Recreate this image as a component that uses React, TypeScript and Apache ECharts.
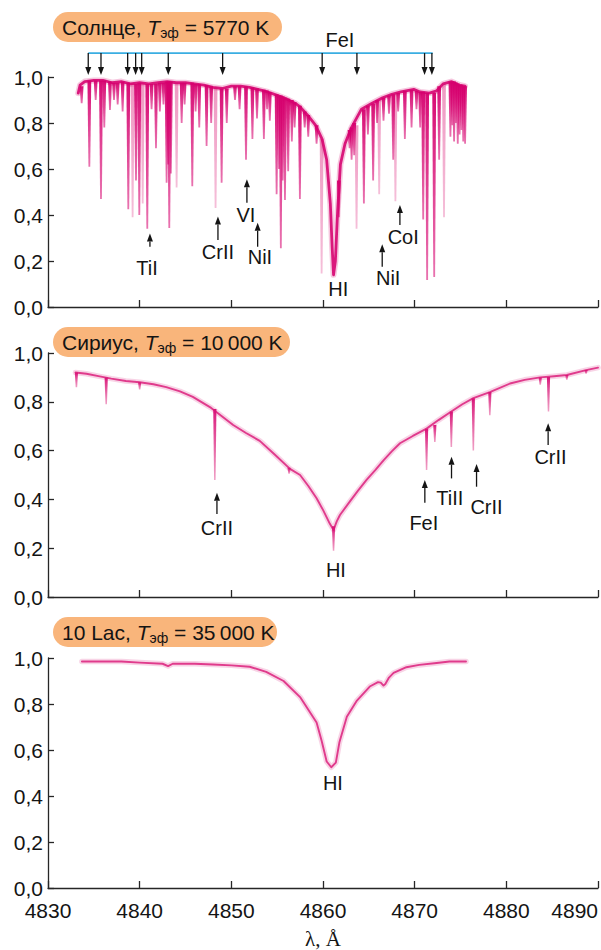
import React, { useEffect, useRef } from "react";
import * as echarts from "echarts";

// ---------- data ----------
// x axis: wavelength, Å ; y axis: relative intensity
const xMin = 4830;
const xMax = 4890;
const xStep = 10;
const yMin = 0;
const yMax = 1;
const yStep = 0.2;

// Sun (T = 5770 K): upper envelope / Hβ profile
const sunContinuum: [number, number][] = [
  [4833.3, 0.93], [4833.5, 0.965], [4834.0, 0.98], [4835.0, 0.985], [4836.0, 0.985],
  [4837.0, 0.975], [4838.0, 0.98], [4839.0, 0.97], [4840.0, 0.975], [4841.0, 0.97],
  [4842.0, 0.975], [4843.0, 0.98], [4844.0, 0.975], [4845.0, 0.975], [4846.0, 0.97],
  [4847.0, 0.965], [4848.0, 0.955], [4849.0, 0.95], [4850.0, 0.96], [4851.0, 0.96],
  [4852.0, 0.955], [4853.0, 0.945], [4854.0, 0.935], [4855.0, 0.92], [4856.0, 0.905],
  [4857.0, 0.885], [4857.5, 0.87], [4858.3, 0.835], [4859.2, 0.79], [4859.9, 0.73],
  [4860.4, 0.64], [4860.8, 0.45], [4861.0, 0.26], [4861.15, 0.14], [4861.35, 0.2],
  [4861.6, 0.42], [4861.9, 0.62], [4862.4, 0.71], [4863.1, 0.78], [4864.2, 0.86],
  [4865.3, 0.885], [4866.5, 0.91], [4867.5, 0.925], [4868.5, 0.935], [4869.9, 0.946],
  [4870.6, 0.935], [4871.6, 0.93], [4872.4, 0.94], [4873.1, 0.97], [4874.0, 0.98],
  [4874.9, 0.965], [4875.5, 0.96],
];

// Sun absorption lines: [λ, top, bottom]
const sunLinesDark: [number, number, number][] = [
  [4833.67, 0.96, 0.886], [4834.51, 0.985, 0.61], [4835.2, 0.985, 0.9], [4835.78, 0.985, 0.47],
  [4836.14, 0.985, 0.78], [4836.76, 0.98, 0.857], [4837.2, 0.975, 0.9], [4837.6, 0.975, 0.88],
  [4838.14, 0.98, 0.85], [4838.76, 0.975, 0.425], [4839.6, 0.97, 0.55], [4839.96, 0.975, 0.4],
  [4840.83, 0.97, 0.34], [4841.3, 0.97, 0.86], [4841.78, 0.97, 0.69], [4842.2, 0.975, 0.85],
  [4842.6, 0.975, 0.88], [4842.94, 0.98, 0.54], [4843.1, 0.98, 0.62], [4843.23, 0.98, 0.343],
  [4843.4, 0.98, 0.58], [4844.58, 0.975, 0.8], [4844.9, 0.975, 0.88], [4845.74, 0.975, 0.525],
  [4846.1, 0.97, 0.85], [4846.5, 0.97, 0.78], [4847.3, 0.965, 0.7], [4847.8, 0.96, 0.8],
  [4848.94, 0.95, 0.54], [4849.5, 0.95, 0.8], [4850.4, 0.96, 0.9], [4850.9, 0.96, 0.86],
  [4851.6, 0.96, 0.64], [4852.3, 0.955, 0.73], [4852.8, 0.95, 0.82], [4853.55, 0.945, 0.73],
  [4853.9, 0.94, 0.86], [4854.2, 0.935, 0.81], [4854.94, 0.925, 0.49], [4855.2, 0.92, 0.6],
  [4855.4, 0.92, 0.255], [4855.6, 0.915, 0.55], [4855.85, 0.91, 0.465], [4856.2, 0.905, 0.59],
  [4856.6, 0.9, 0.72], [4856.9, 0.89, 0.78], [4857.48, 0.875, 0.47], [4858.0, 0.85, 0.78],
  [4858.39, 0.835, 0.74], [4859.3, 0.79, 0.71], [4861.73, 0.55, 0.39], [4862.9, 0.77, 0.69],
  [4863.12, 0.78, 0.64], [4863.4, 0.8, 0.66], [4864.46, 0.86, 0.45], [4864.9, 0.875, 0.75],
  [4865.47, 0.885, 0.55], [4865.9, 0.9, 0.8], [4866.6, 0.91, 0.81], [4867.2, 0.92, 0.84],
  [4867.66, 0.925, 0.64], [4868.2, 0.93, 0.85], [4868.93, 0.94, 0.73], [4869.66, 0.945, 0.78],
  [4870.2, 0.94, 0.86], [4870.6, 0.935, 0.78], [4870.93, 0.935, 0.38], [4871.36, 0.93, 0.117],
  [4872.13, 0.93, 0.13], [4872.67, 0.96, 0.64],
  [4873.9, 0.98, 0.74], [4874.1, 0.98, 0.79], [4874.3, 0.98, 0.72], [4874.5, 0.975, 0.8],
  [4874.7, 0.97, 0.71], [4874.9, 0.965, 0.75], [4875.1, 0.965, 0.77], [4875.3, 0.96, 0.72],
  [4875.5, 0.96, 0.71],
];
const sunLinesLight: [number, number, number][] = [
  [4839.23, 0.975, 0.39], [4840.33, 0.975, 0.45], [4844.03, 0.975, 0.52], [4848.28, 0.955, 0.43],
  [4859.85, 0.73, 0.146], [4863.66, 0.79, 0.34], [4866.13, 0.9, 0.49], [4867.9, 0.925, 0.46],
  [4873.2, 0.97, 0.39],
];

// Sirius (T = 10 000 K)
const siriusProfile: [number, number][] = [
  [4833.0, 0.92], [4834.2, 0.915], [4835.5, 0.905], [4836.9, 0.895], [4838.5, 0.885],
  [4840.0, 0.88], [4841.5, 0.872], [4842.9, 0.86], [4844.4, 0.843], [4845.8, 0.82],
  [4847.8, 0.775], [4849.0, 0.74], [4850.2, 0.705], [4851.6, 0.672], [4853.1, 0.64],
  [4854.7, 0.585], [4856.4, 0.525], [4857.5, 0.5], [4858.4, 0.455], [4859.3, 0.405],
  [4860.0, 0.357], [4860.75, 0.3], [4861.15, 0.275], [4861.5, 0.31], [4861.85, 0.336],
  [4862.9, 0.39], [4863.8, 0.435], [4864.75, 0.48], [4865.7, 0.52], [4866.6, 0.56],
  [4867.5, 0.597], [4868.4, 0.63], [4869.8, 0.66], [4871.3, 0.69], [4872.6, 0.725],
  [4874.0, 0.76], [4875.2, 0.79], [4876.4, 0.815], [4878.2, 0.84], [4880.4, 0.875],
  [4882.0, 0.89], [4883.7, 0.9], [4885.2, 0.905], [4886.6, 0.91], [4888.7, 0.93], [4890.0, 0.94],
];
const siriusLines: [number, number, number][] = [
  [4833.1, 0.92, 0.86], [4836.35, 0.9, 0.79], [4840.0, 0.88, 0.85], [4848.2, 0.77, 0.48],
  [4856.3, 0.53, 0.505], [4861.15, 0.29, 0.19], [4871.3, 0.69, 0.52], [4872.2, 0.705, 0.635],
  [4874.0, 0.76, 0.615], [4876.4, 0.815, 0.6], [4878.2, 0.84, 0.745], [4883.7, 0.9, 0.87],
  [4884.6, 0.902, 0.76], [4886.6, 0.91, 0.89], [4888.7, 0.93, 0.915],
];

// 10 Lac (T = 35 000 K)
const lacProfile: [number, number][] = [
  [4833.7, 0.985], [4836.0, 0.985], [4838.0, 0.985], [4840.0, 0.98], [4842.5, 0.975],
  [4843.1, 0.965], [4843.6, 0.975], [4846.0, 0.975], [4848.0, 0.972], [4850.0, 0.968],
  [4852.0, 0.962], [4853.8, 0.94], [4855.7, 0.9], [4857.5, 0.83], [4859.3, 0.72],
  [4859.85, 0.64], [4860.4, 0.55], [4860.9, 0.525], [4861.4, 0.545], [4861.8, 0.635],
  [4862.6, 0.745], [4863.7, 0.815], [4865.1, 0.876], [4866.0, 0.895], [4866.3, 0.893],
  [4866.6, 0.88], [4866.8, 0.887], [4867.2, 0.915], [4867.7, 0.935], [4869.1, 0.96],
  [4870.5, 0.97], [4872.4, 0.978], [4873.8, 0.985], [4875.6, 0.985],
];

// panel titles
const panelNames = ["Солнце", "Сириус", "10 Lac"];
const panelTemps = ["5770", "10\u2009000", "35\u2009000"];

// Fe I lines marked above the solar spectrum
const feLabel = "FeI";
const feArrowsSun = [4834.39, 4835.78, 4838.69, 4839.56, 4840.22, 4843.12, 4849.05, 4859.91, 4863.7, 4871.08, 4871.88];

// line identifications: panel, arrow λ, arrow tip, arrow tail, text λ, text level
type Ann = { g: number; t: string; x?: number; tip?: number; tail?: number; tx: number; ty: number };
const annotations: Ann[] = [
  { g: 0, t: "TiI", x: 4841.12, tip: 0.32, tail: 0.262, tx: 4840.8, ty: 0.17 },
  { g: 0, t: "CrII", x: 4848.54, tip: 0.393, tail: 0.291, tx: 4848.54, ty: 0.24 },
  { g: 0, t: "VI", x: 4851.7, tip: 0.555, tail: 0.453, tx: 4851.59, ty: 0.4 },
  { g: 0, t: "NiI", x: 4852.87, tip: 0.366, tail: 0.262, tx: 4853.12, ty: 0.216 },
  { g: 0, t: "HI", tx: 4861.66, ty: 0.077 },
  { g: 0, t: "NiI", x: 4866.46, tip: 0.273, tail: 0.175, tx: 4867.11, ty: 0.125 },
  { g: 0, t: "CoI", x: 4868.39, tip: 0.443, tail: 0.357, tx: 4868.75, ty: 0.306 },
  { g: 1, t: "CrII", x: 4848.43, tip: 0.427, tail: 0.34, tx: 4848.43, ty: 0.282 },
  { g: 1, t: "HI", tx: 4861.41, ty: 0.111 },
  { g: 1, t: "FeI", x: 4871.11, tip: 0.48, tail: 0.386, tx: 4871.0, ty: 0.302 },
  { g: 1, t: "TiII", x: 4874.02, tip: 0.575, tail: 0.486, tx: 4873.84, ty: 0.405 },
  { g: 1, t: "CrII", x: 4876.75, tip: 0.545, tail: 0.452, tx: 4877.84, ty: 0.368 },
  { g: 1, t: "CrII", x: 4884.56, tip: 0.712, tail: 0.623, tx: 4884.82, ty: 0.575 },
  { g: 2, t: "HI", tx: 4861.08, ty: 0.457 },
];

// ---------- styles / layout ----------
const FONT = "'Liberation Sans', Arial, Helvetica, sans-serif";
const INK = "#141414";
const AXIS = "#262626";
const MAG = "214,0,110";
const grids = [
  { left: 48, top: 77, width: 550, height: 230 },
  { left: 48, top: 353, width: 550, height: 244 },
  { left: 48, top: 658, width: 550, height: 243 },
];
const boxes = [
  { x: 53, y: 12, w: 229, h: 30 },
  { x: 53, y: 327, w: 237, h: 30 },
  { x: 53, y: 617, w: 224, h: 30 },
];

function spikeSeries(grid: number, data: [number, number, number][], c0: string, c1: string, wTop: number, wBot: number) {
  return {
    type: "custom",
    xAxisIndex: grid,
    yAxisIndex: grid,
    data,
    encode: { x: 0, y: [1, 2] },
    z: 4,
    renderItem: (_p: any, api: any) => {
      const top = api.coord([api.value(0), api.value(1)]);
      const bot = api.coord([api.value(0), api.value(2)]);
      return {
        type: "polygon",
        shape: {
          points: [
            [top[0] - wTop / 2, top[1]],
            [top[0] + wTop / 2, top[1]],
            [bot[0] + wBot / 2, bot[1]],
            [bot[0] - wBot / 2, bot[1]],
          ],
        },
        style: {
          fill: new echarts.graphic.LinearGradient(0, 0, 0, 1, [
            { offset: 0, color: c0 },
            { offset: 1, color: c1 },
          ]),
        },
      };
    },
  };
}

function profileSeries(grid: number, data: [number, number][], width: number, color: string, z: number) {
  return {
    type: "line",
    xAxisIndex: grid,
    yAxisIndex: grid,
    data,
    symbol: "none",
    smooth: false,
    z,
    lineStyle: { color, width, join: "round", cap: "round" },
  };
}

export default function App() {
  const ref = useRef<HTMLDivElement>(null);

  useEffect(() => {
    document.body.style.margin = "0";
    if (!ref.current) return;
    const chart = echarts.init(ref.current, undefined, { renderer: "svg" });

    const axisLineStyle = { color: AXIS, width: 1.3 };
    const option: any = {
      animation: false,
      backgroundColor: "#ffffff",
      grid: grids.map((g) => ({ ...g, containLabel: false })),
      xAxis: grids.map((_, i) => ({
        type: "value",
        gridIndex: i,
        min: xMin,
        max: xMax,
        interval: xStep,
        axisLine: { show: true, lineStyle: axisLineStyle },
        axisTick: { show: true, inside: true, length: 7, lineStyle: axisLineStyle },
        splitLine: { show: false },
        axisLabel: {
          show: i === 2,
          fontSize: 21,
          fontFamily: FONT,
          color: INK,
          margin: 14,
          lineHeight: 16,
          alignMaxLabel: "right",
          formatter: (v: number) => String(v),
        },
        name: i === 2 ? "λ, Å" : "",
        nameLocation: "middle",
        nameGap: 40,
        nameTextStyle: { fontFamily: "'Liberation Serif', 'Times New Roman', serif", fontSize: 21, color: INK },
      })),
      yAxis: grids.map((_, i) => ({
        type: "value",
        gridIndex: i,
        min: yMin,
        max: yMax,
        interval: yStep,
        axisLine: { show: true, lineStyle: axisLineStyle },
        axisTick: { show: true, inside: true, length: 6, lineStyle: axisLineStyle },
        splitLine: { show: false },
        axisLabel: {
          fontSize: 21,
          fontFamily: FONT,
          color: INK,
          margin: 5,
          lineHeight: 14,
          formatter: (v: number) => v.toFixed(1).replace(".", ","),
        },
      })),
      series: [
        // Sun
        profileSeries(0, sunContinuum, 6, `rgba(${MAG},0.22)`, 2),
        spikeSeries(0, sunLinesLight, "rgba(226,70,145,0.55)", "rgba(226,70,145,0.35)", 3.8, 1.8),
        spikeSeries(0, sunLinesDark, "rgba(214,0,110,0.95)", "rgba(214,0,110,0.55)", 3.8, 1.8),
        profileSeries(0, sunContinuum, 2.8, `rgba(${MAG},0.88)`, 5),
        // Sirius
        profileSeries(1, siriusProfile, 5.5, "rgba(225,60,140,0.22)", 2),
        spikeSeries(1, siriusLines, "rgba(214,0,110,0.9)", "rgba(220,40,125,0.45)", 3.2, 1.5),
        profileSeries(1, siriusProfile, 1.9, "rgba(218,20,118,0.8)", 5),
        // 10 Lac
        profileSeries(2, lacProfile, 5.5, "rgba(225,60,140,0.22)", 2),
        profileSeries(2, lacProfile, 1.9, "rgba(218,20,118,0.8)", 5),
      ],
    };
    chart.setOption(option);

    const px = (g: number, l: number, v: number) =>
      chart.convertToPixel({ xAxisIndex: g, yAxisIndex: g } as any, [l, v]) as number[];

    const els: any[] = [];
    const arrow = (x: number, yTail: number, yTip: number) => {
      const dir = yTip < yTail ? 1 : -1;
      const base = yTip + dir * 8;
      els.push({
        type: "line",
        z: 20,
        shape: { x1: x, y1: yTail, x2: x, y2: base },
        style: { stroke: INK, lineWidth: 1.3 },
      });
      els.push({
        type: "polygon",
        z: 20,
        shape: { points: [[x, yTip], [x - 3, base], [x + 3, base]] },
        style: { fill: INK },
      });
    };
    const label = (x: number, y: number, t: string) => {
      els.push({
        type: "text",
        z: 20,
        x,
        y,
        style: { text: t, fontSize: 20, fontFamily: FONT, fill: INK, align: "center", verticalAlign: "middle" },
      });
    };

    // panel title boxes
    boxes.forEach((b, i) => {
      els.push({
        type: "rect",
        z: 15,
        shape: { x: b.x, y: b.y, width: b.w, height: b.h, r: b.h / 2 },
        style: { fill: "#f9b57b" },
      });
      els.push({
        type: "text",
        z: 16,
        x: b.x + 9,
        y: b.y + b.h / 2,
        style: {
          text: `{n|${panelNames[i]}, }{i|T}{s|эф}{n| = ${panelTemps[i]} K}`,
          align: "left",
          verticalAlign: "middle",
          rich: {
            n: { fontSize: 21, fontFamily: FONT, fill: INK, lineHeight: 26 },
            i: { fontSize: 21, fontFamily: FONT, fill: INK, fontStyle: "italic", lineHeight: 26 },
            s: { fontSize: 14, fontFamily: FONT, fill: INK, lineHeight: 13, verticalAlign: "bottom" },
          },
        },
      });
    });

    // Fe I bracket
    const feLineV = 1.104;
    const feTipV = 1.009;
    const a = px(0, feArrowsSun[0], feLineV);
    const b = px(0, feArrowsSun[feArrowsSun.length - 1], feLineV);
    els.push({
      type: "line",
      z: 19,
      shape: { x1: a[0], y1: a[1], x2: b[0] + 0.8, y2: b[1] },
      style: { stroke: "#3aaee2", lineWidth: 1.6 },
    });
    feArrowsSun.forEach((l) => {
      const p0 = px(0, l, feLineV);
      const p1 = px(0, l, feTipV);
      arrow(p0[0], p0[1], p1[1]);
    });
    const fp = px(0, 4861.84, 1.161);
    label(fp[0], fp[1], feLabel);

    annotations.forEach((an) => {
      if (an.x !== undefined) {
        const t = px(an.g, an.x, an.tip as number);
        const s = px(an.g, an.x, an.tail as number);
        arrow(t[0], s[1], t[1]);
      }
      const p = px(an.g, an.tx, an.ty);
      label(p[0], p[1], an.t);
    });

    chart.setOption({ graphic: { elements: els } });

    return () => chart.dispose();
  }, []);

  return <div ref={ref} style={{ width: 601, height: 950 }} />;
}
